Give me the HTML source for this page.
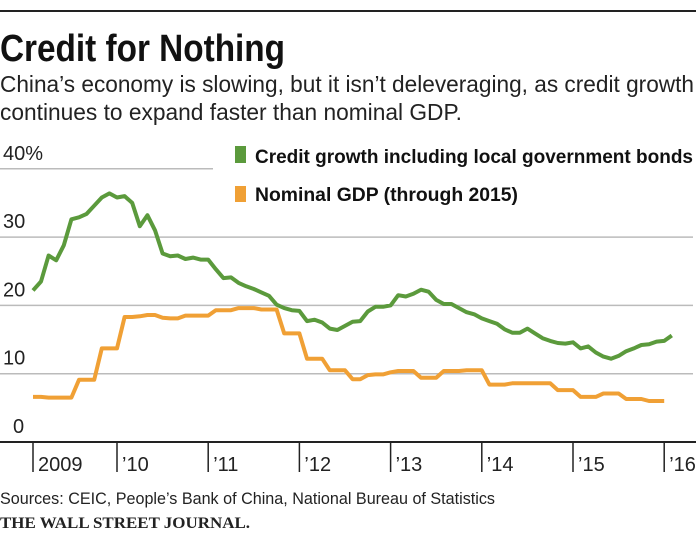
<!DOCTYPE html>
<html><head><meta charset="utf-8"><style>
html,body{margin:0;padding:0;background:#fff;}
svg{display:block;font-family:"Liberation Sans Narrow","Liberation Sans",sans-serif;}
</style></head><body>
<svg id="chart" width="700" height="542" viewBox="0 0 700 542" xmlns="http://www.w3.org/2000/svg">
<rect x="0" y="10" width="696" height="2" fill="#222"/>
<text x="0" y="61" font-size="38" font-weight="bold" textLength="285" lengthAdjust="spacingAndGlyphs" fill="#111">Credit for Nothing</text>
<text x="0" y="92" font-size="23" textLength="694" lengthAdjust="spacingAndGlyphs" fill="#222">China’s economy is slowing, but it isn’t deleveraging, as credit growth</text>
<text x="0" y="120" font-size="23" textLength="462" lengthAdjust="spacingAndGlyphs" fill="#222">continues to expand faster than nominal GDP.</text>
<g id="grid"></g>
<g id="yticks"></g>
<rect x="235" y="146" width="11" height="17" fill="#5b9a3c"/>
<text x="255" y="163" font-size="19" font-weight="bold" textLength="438" lengthAdjust="spacingAndGlyphs" fill="#111">Credit growth including local government bonds</text>
<rect x="235" y="186" width="11" height="16" fill="#f0a035"/>
<text x="255" y="201" font-size="19" font-weight="bold" textLength="263" lengthAdjust="spacingAndGlyphs" fill="#111">Nominal GDP (through 2015)</text>
<g id="series"></g>
<rect x="0" y="441" width="696" height="2" fill="#222"/>
<g id="xticks"></g>
<text x="0" y="504" font-size="17" textLength="495" lengthAdjust="spacingAndGlyphs" fill="#222">Sources: CEIC, People’s Bank of China, National Bureau of Statistics</text>
<text x="0" y="528" font-size="16" font-weight="bold" font-family="Liberation Serif, serif" textLength="250" lengthAdjust="spacingAndGlyphs" fill="#222">THE WALL STREET JOURNAL.</text>
</svg>
<script>
// months since Jan 2010 (start at -11)
const creditStart = -11;
const creditValues = [22.2,23.5,27.3,26.6,28.8,32.6,32.9,33.4,34.6,35.8,36.4,35.8,36.0,35.0,31.6,33.2,31.0,27.6,27.2,27.3,26.8,27.0,26.7,26.7,25.3,24.0,24.1,23.3,22.8,22.4,21.9,21.4,20.1,19.6,19.3,19.2,17.7,17.9,17.5,16.6,16.4,17.0,17.6,17.7,19.1,19.8,19.8,20.0,21.5,21.3,21.7,22.3,22.0,20.8,20.2,20.2,19.6,19.0,18.7,18.1,17.7,17.3,16.5,16.0,16.0,16.6,15.9,15.2,14.8,14.5,14.4,14.6,13.7,14.0,13.1,12.5,12.2,12.6,13.3,13.7,14.2,14.3,14.7,14.8,15.6];
const gdpStart = -11;
const gdpValues = [6.6,6.6,6.5,6.5,6.5,6.5,9.1,9.1,9.1,13.7,13.7,13.7,18.3,18.3,18.4,18.6,18.6,18.2,18.1,18.1,18.5,18.5,18.5,18.5,19.3,19.3,19.3,19.6,19.6,19.6,19.4,19.4,19.4,15.9,15.9,15.9,12.2,12.2,12.2,10.5,10.5,10.5,9.2,9.2,9.8,9.9,9.9,10.2,10.4,10.4,10.4,9.4,9.4,9.4,10.4,10.4,10.4,10.5,10.5,10.5,8.4,8.4,8.4,8.6,8.6,8.6,8.6,8.6,8.6,7.6,7.6,7.6,6.6,6.6,6.6,7.1,7.1,7.1,6.3,6.3,6.3,6.0,6.0,6.0];
const yTicks = [0,10,20,30,40];
const yTickLabels = ["0","10","20","30","40%"];
const xTickMonths = [-11,0,12,24,36,48,60,72];
const xTickLabels = ["2009","’10","’11","’12","’13","’14","’15","’16"];

const NS="http://www.w3.org/2000/svg";
function xs(m){ return m===-11 ? 33 : 117 + m*7.6; }
function ys(v){ return 442 - v*6.83; }
function mk(tag, attrs, parent){ const e=document.createElementNS(NS,tag); for(const k in attrs) e.setAttribute(k,attrs[k]); parent.appendChild(e); return e; }

const grid=document.getElementById('grid'), yt=document.getElementById('yticks');
yTicks.forEach((v,i)=>{
  if(v>0){
    const l=mk('line',{x1:0,x2:v===40?213:693,y1:ys(v),y2:ys(v),stroke:'#bbb','stroke-width':1.5},grid);
    
    
  }
  const t=mk('text',{x:v===0?13:3,y:ys(v)-9,'font-size':20,fill:'#222'},yt);
  t.textContent=yTickLabels[i];
  
  
});

const xt=document.getElementById('xticks');
xTickMonths.forEach((m,i)=>{
  const x=xs(m);
  const l=mk('line',{x1:x,x2:x,y1:442,y2:472,stroke:'#222','stroke-width':1.5},xt);
  
  
  const t=mk('text',{x:x+5,y:471,'font-size':20,fill:'#222'},xt);
  t.textContent=xTickLabels[i];
  
  
});

function path(vals,start){ return vals.map((v,i)=>(i?'L':'M')+xs(start+i).toFixed(1)+' '+ys(v).toFixed(1)).join(' '); }
const s=document.getElementById('series');
const g=mk('path',{d:path(gdpValues,gdpStart),fill:'none',stroke:'#f0a035','stroke-width':4,'stroke-linejoin':'round'},s);


const c=mk('path',{d:path(creditValues,creditStart),fill:'none',stroke:'#5b9a3c','stroke-width':4,'stroke-linejoin':'round'},s);


</script>
</body></html>
